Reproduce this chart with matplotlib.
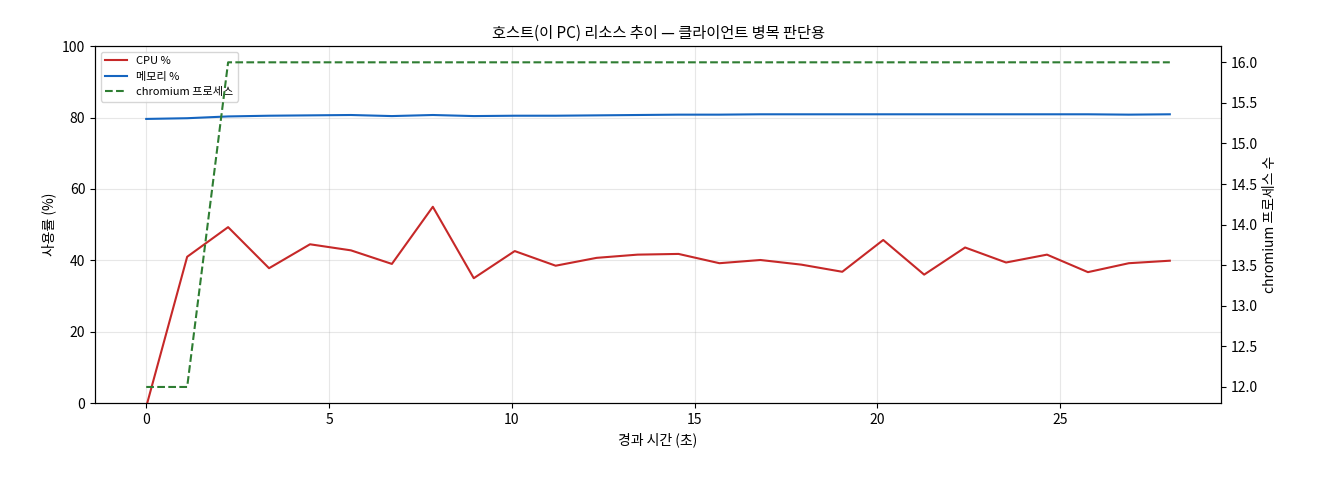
import numpy as np
import matplotlib
matplotlib.use("Agg")
import matplotlib.pyplot as plt

plt.rcParams['font.family'] = ['Noto Sans CJK KR', 'DejaVu Sans']
plt.rcParams['axes.unicode_minus'] = False

# elapsed seconds
t = [0, 1.12, 2.24, 3.36, 4.48, 5.6, 6.72, 7.84, 8.96, 10.08, 11.2, 12.32, 13.44,
     14.56, 15.68, 16.8, 17.92, 19.04, 20.16, 21.28, 22.4, 23.52, 24.64, 25.76,
     26.88, 28.0]
cpu = [-1.0, 41.0, 49.3, 37.8, 44.5, 42.8, 39.0, 55.0, 35.0, 42.6, 38.5, 40.7, 41.6,
       41.8, 39.2, 40.1, 38.8, 36.8, 45.7, 36.0, 43.6, 39.4, 41.6, 36.7, 39.2, 39.9]
mem = [79.6, 79.8, 80.3, 80.5, 80.6, 80.7, 80.4, 80.7, 80.4, 80.5, 80.5, 80.6, 80.7,
       80.8, 80.8, 80.9, 80.9, 80.9, 80.9, 80.9, 80.9, 80.9, 80.9, 80.9, 80.8, 80.9]
procs = [12, 12] + [16] * 24

fig, ax = plt.subplots(figsize=(13.2, 4.8), dpi=100)
l1, = ax.plot(t, cpu, color='#c62828', lw=1.5, label='CPU %')
l2, = ax.plot(t, mem, color='#1565c0', lw=1.5, label='메모리 %')
ax.set_ylim(0, 100)
ax.set_xlabel('경과 시간 (초)')
ax.set_ylabel('사용률 (%)')
ax.grid(alpha=0.3)
ax.set_title('호스트(이 PC) 리소스 추이 — 클라이언트 병목 판단용', fontsize=11)

ax2 = ax.twinx()
l3, = ax2.plot(t, procs, color='#2e7d32', lw=1.5, ls='--', label='chromium 프로세스')
ax2.set_ylim(11.8, 16.2)
ax2.set_ylabel('chromium 프로세스 수')

ax.legend(handles=[l1, l2, l3], loc='upper left', fontsize=8)
fig.subplots_adjust(left=0.072, right=0.925, top=0.904, bottom=0.16)
fig.savefig('out.png')
